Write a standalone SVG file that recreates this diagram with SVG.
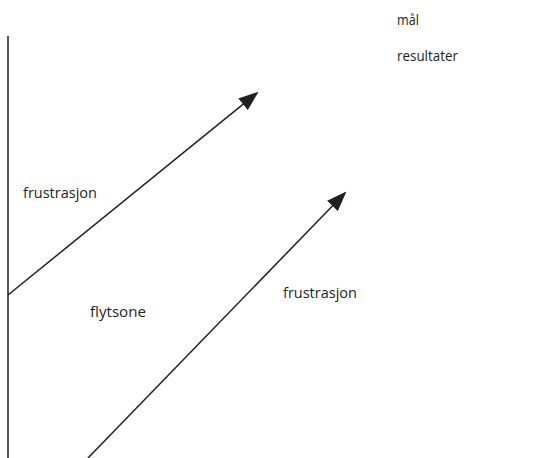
<svg xmlns="http://www.w3.org/2000/svg" width="545" height="458" viewBox="0 0 545 458">
<style>
.lbl{font-family:"Open Sans","Liberation Sans",sans-serif;font-size:14.5px;fill:#231f20}
.ln{stroke:#231f20;stroke-width:1.5;fill:none}
</style>
<defs>
<marker id="ah" markerWidth="20" markerHeight="15" refX="18" refY="7.5" orient="auto" markerUnits="userSpaceOnUse" viewBox="0 0 20 15">
<path d="M0,0 L20,7.5 L0,15 Z" fill="#231f20"/>
</marker>
</defs>
<rect width="545" height="458" fill="#fff"/>
<g id="connectors">
<line class="ln" x1="8" y1="36" x2="8" y2="458"/>
<line class="ln" x1="8" y1="295" x2="257" y2="93" marker-end="url(#ah)"/>
<line class="ln" x1="88" y1="458" x2="345" y2="193" marker-end="url(#ah)"/>
</g>
<g id="mal"><text class="lbl" x="397" y="25" textLength="22" lengthAdjust="spacingAndGlyphs">mål</text></g>
<g id="resultater"><text class="lbl" x="397" y="61" textLength="61" lengthAdjust="spacingAndGlyphs">resultater</text></g>
<g id="frustrasjon1"><text class="lbl" x="23" y="198" textLength="74" lengthAdjust="spacingAndGlyphs">frustrasjon</text></g>
<g id="flytsone"><text class="lbl" x="90" y="317" textLength="56" lengthAdjust="spacingAndGlyphs">flytsone</text></g>
<g id="frustrasjon2"><text class="lbl" x="283" y="298" textLength="74" lengthAdjust="spacingAndGlyphs">frustrasjon</text></g>
</svg>
